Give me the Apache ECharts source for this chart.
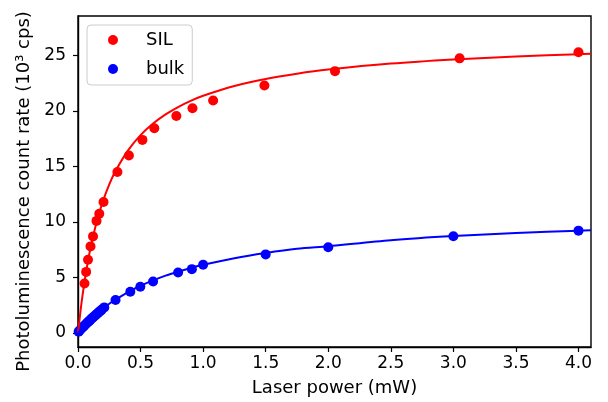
<!DOCTYPE html>
<html>
<head>
<meta charset="utf-8">
<script src="https://cdn.jsdelivr.net/npm/echarts@6/dist/echarts.min.js"></script>
<style>
  html, body { margin: 0; padding: 0; background: #fff; }
  #chart { width: 608px; height: 402px; }
</style>
</head>
<body>
<div id="chart"></div>
<script>
// measured points
var silX = [0.052, 0.065, 0.08, 0.1, 0.12, 0.148, 0.17, 0.204, 0.315, 0.407, 0.515, 0.61, 0.786, 0.915, 1.08, 1.49, 2.054, 3.05, 4.0];
var silY = [4.45, 5.5, 6.6, 7.8, 8.7, 10.1, 10.75, 11.8, 14.5, 16.0, 17.4, 18.45, 19.55, 20.25, 20.95, 22.3, 23.6, 24.75, 25.3];

var bulkX = [0.005, 0.01, 0.02, 0.03, 0.04, 0.05, 0.06, 0.07, 0.08, 0.09, 0.1, 0.11, 0.12, 0.13, 0.14, 0.15, 0.16, 0.17, 0.18, 0.19, 0.21,
  0.3, 0.418, 0.498, 0.6, 0.8, 0.91, 1.0, 1.5, 2.0, 3.0, 4.0];
var bulkY = [0.1, 0.17, 0.3, 0.42, 0.53, 0.65, 0.76, 0.87, 0.98, 1.08, 1.2, 1.3, 1.4, 1.5, 1.6, 1.7, 1.8, 1.9, 2.0, 2.1, 2.3,
  2.96, 3.71, 4.16, 4.64, 5.45, 5.75, 6.14, 7.08, 7.72, 8.72, 9.22];

// fitted curves
var fitX = [0, 0.025, 0.05, 0.075, 0.1, 0.15, 0.2, 0.25, 0.3, 0.4, 0.5, 0.6, 0.7, 0.8, 0.9, 1.0, 1.25, 1.5, 1.75, 2.0, 2.5, 3.0, 3.5, 4.0, 4.1];
var silFit = [0, 2.44, 4.47, 6.19, 7.66, 10.05, 11.9, 13.39, 14.6, 16.46, 17.83, 18.87, 19.7, 20.36, 20.92, 21.38, 22.26, 22.9, 23.37, 23.74, 24.28, 24.65, 24.92, 25.13, 25.17];
var bulkFit = [0, 0.33, 0.65, 0.95, 1.23, 1.74, 2.21, 2.63, 3.01, 3.68, 4.25, 4.73, 5.16, 5.52, 5.85, 6.14, 6.74, 7.21, 7.59, 7.82, 8.36, 8.73, 9.0, 9.22, 9.26];

var xTicks = [0, 0.5, 1, 1.5, 2, 2.5, 3, 3.5, 4];
var yTicks = [0, 5, 10, 15, 20, 25];

function pairs(xs, ys) {
  return xs.map(function (x, i) { return [x, ys[i]]; });
}

var font = 'DejaVu Sans';
var chart = echarts.init(document.getElementById('chart'));

chart.setOption({
  backgroundColor: '#ffffff',
  animation: false,
  textStyle: { fontFamily: font },
  grid: {
    left: 78, right: 17, top: 16, bottom: 54,
    show: true, borderColor: '#000', borderWidth: 1.4, backgroundColor: 'transparent'
  },
  legend: {
    data: ['SIL', 'bulk'],
    orient: 'vertical',
    left: 87, top: 25,
    icon: 'circle',
    itemWidth: 10, itemHeight: 10,
    itemGap: 9,
    padding: [5, 8, 6, 21],
    backgroundColor: 'rgba(255,255,255,0.8)',
    borderColor: '#cccccc', borderWidth: 1, borderRadius: 4,
    textStyle: { fontFamily: font, fontSize: 18, color: '#000', padding: [0, 0, 0, 23], lineHeight: 20 }
  },
  xAxis: {
    type: 'value',
    min: 0, max: 4.1,
    name: 'Laser power (mW)',
    nameLocation: 'middle',
    nameGap: 32,
    nameTextStyle: { fontFamily: font, fontSize: 18, color: '#000' },
    axisLine: { show: true, onZero: false, lineStyle: { color: '#000', width: 1.4 } },
    axisTick: { show: true, length: 5, lineStyle: { color: '#000', width: 1.2 }, customValues: xTicks },
    axisLabel: {
      customValues: xTicks, margin: 8, color: '#000', fontFamily: font, fontSize: 17,
      formatter: function (v) { return v.toFixed(1); }
    },
    splitLine: { show: false }
  },
  yAxis: {
    type: 'value',
    min: -1.27, max: 28.57,
    name: 'Photoluminescence count rate (10³ cps)',
    nameLocation: 'middle',
    nameGap: 39,
    nameRotate: 90,
    nameTextStyle: { fontFamily: font, fontSize: 18, color: '#000', padding: [0, 20, 0, 0] },
    axisLine: { show: true, onZero: false, lineStyle: { color: '#000', width: 1.4 } },
    axisTick: { show: true, length: 5, lineStyle: { color: '#000', width: 1.2 }, customValues: yTicks },
    axisLabel: { customValues: yTicks, margin: 12, color: '#000', fontFamily: font, fontSize: 17 },
    splitLine: { show: false }
  },
  series: [
    {
      name: 'SIL', type: 'scatter', symbol: 'circle', symbolSize: 10,
      itemStyle: { color: '#ff0000', opacity: 1 },
      data: pairs(silX, silY), z: 3
    },
    {
      name: 'SIL fit', type: 'line', showSymbol: false, smooth: 0.3,
      lineStyle: { color: '#ff0000', width: 2 },
      data: pairs(fitX, silFit), z: 4
    },
    {
      name: 'bulk', type: 'scatter', symbol: 'circle', symbolSize: 10,
      itemStyle: { color: '#0000ff', opacity: 1 },
      data: pairs(bulkX, bulkY), z: 3
    },
    {
      name: 'bulk fit', type: 'line', showSymbol: false, smooth: 0.3,
      lineStyle: { color: '#0000ff', width: 2 },
      data: pairs(fitX, bulkFit), z: 4
    }
  ]
});
</script>
</body>
</html>
